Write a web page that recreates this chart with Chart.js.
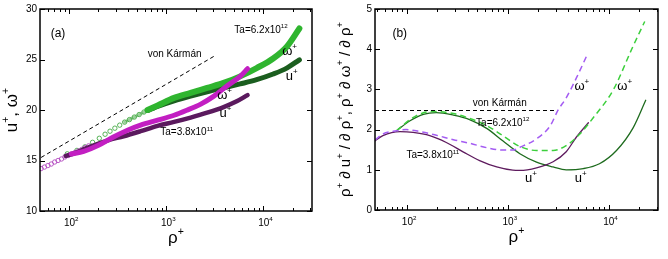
<!DOCTYPE html>
<html>
<head>
<meta charset="utf-8">
<script src="https://cdn.jsdelivr.net/npm/chart.js@4.4.1/dist/chart.umd.min.js"></script>
<style>
  html, body { margin: 0; padding: 0; background: #fff; }
  #wrap { position: relative; width: 668px; height: 259px; }
  #ca { position: absolute; left: 0; top: 0; }
  #cb { position: absolute; left: 330px; top: 0; }
</style>
</head>
<body>
<div id="wrap">
  <canvas id="ca" width="330" height="259" style="width:330px;height:259px"></canvas>
  <canvas id="cb" width="338" height="259" style="width:338px;height:259px"></canvas>
</div>
<script>
// ============================================
// Panel (a) data: u+ and omega+ vs rho+
// ============================================
const vkRhoA = [51.3, 3200]
const vkValA = [15.3, 25.4]

// Ta=3.8e11, near-wall circles
const lowCircRho = [51.3, 55.6, 60.3, 65.3, 70.8, 76.7, 83.2, 90.2, 97.7, 105.9, 114.8, 124.5, 134.9, 146.2, 158.5]
const lowCircVal = [14.2, 14.35, 14.5, 14.65, 14.85, 15.0, 15.15, 15.35, 15.5, 15.65, 15.8, 15.95, 16.1, 16.3, 16.45]
// Ta=3.8e11, u+
const lowURho = [92, 112, 158, 251, 363, 543, 813, 1202, 1778, 2630, 3890, 5370, 6860]
const lowUVal = [15.45, 15.7, 16.3, 17.0, 17.4, 17.9, 18.43, 18.82, 19.25, 19.73, 20.29, 20.88, 21.47]
// Ta=3.8e11, omega+
const lowWRho = [105, 141, 200, 282, 398, 543, 813, 1202, 1622, 2239, 3090, 4169, 5754, 6860]
const lowWVal = [15.65, 15.9, 16.5, 17.3, 18.0, 18.5, 18.99, 19.48, 19.97, 20.56, 21.37, 22.35, 23.33, 24.09]

// Ta=6.2e12, near-wall circles
const highCircRho = [95.5, 120, 145, 174, 204, 234, 263, 295, 331, 372, 417, 468, 525, 589, 661, 741]
const highCircVal = [15.66, 16.0, 16.35, 16.8, 17.2, 17.6, 17.9, 18.2, 18.5, 18.8, 19.05, 19.3, 19.55, 19.8, 20.0, 20.2]
// where the circles crowd into a band
const highBandRho = [372, 417, 468, 525, 589, 661, 741]
const highBandVal = [18.8, 19.05, 19.3, 19.55, 19.8, 20.0, 20.2]
// Ta=6.2e12, omega+ and u+
const highRho = [640, 813, 1202, 1778, 2630, 3890, 5754, 8511, 12590, 17380, 23440]
const highWVal = [20.0, 20.45, 21.2, 21.7, 22.19, 22.68, 23.33, 24.15, 25.1, 26.27, 28.07]
const highUVal = [19.95, 20.35, 20.9, 21.37, 21.8, 22.19, 22.58, 23.0, 23.56, 24.15, 24.97]

// ============================================
// Panel (b) data: log-derivatives
// ============================================
const vkRhoB = [48, 3040]
const vkValB = [2.475, 2.475]

const dLowURho = [48, 57.5, 85.1, 114.8, 168, 245, 363, 525, 776, 1122, 1318, 1928, 2818, 3802, 4786, 6310]
const dLowUVal = [1.72, 1.85, 1.95, 1.93, 1.85, 1.68, 1.44, 1.23, 1.07, 0.99, 0.985, 1.05, 1.2, 1.45, 1.81, 2.17]

const dLowWRho = [48, 57.5, 78.5, 97.7, 135, 195, 288, 417, 617, 891, 1122, 1318, 1928, 2630, 3162, 3802, 4786, 6166]
const dLowWVal = [1.74, 1.89, 1.97, 2.0, 1.95, 1.86, 1.75, 1.66, 1.55, 1.49, 1.49, 1.56, 1.77, 2.09, 2.49, 2.79, 3.28, 3.87]

const dHighURho = [78.5, 107, 145, 195, 288, 417, 617, 891, 1318, 1928, 2818, 3800, 5620, 8130, 12000, 17600, 23400]
const dHighUVal = [1.97, 2.22, 2.38, 2.42, 2.36, 2.25, 2.03, 1.72, 1.4, 1.19, 1.07, 1.0, 1.03, 1.15, 1.48, 2.05, 2.73]

const dHighWRho = [78.5, 107, 145, 182, 288, 417, 617, 891, 1318, 1928, 2818, 3890, 5190, 7080, 11220, 16980, 22900]
const dHighWVal = [1.97, 2.25, 2.42, 2.45, 2.4, 2.28, 2.1, 1.85, 1.58, 1.48, 1.48, 1.62, 1.89, 2.3, 3.0, 4.0, 4.69]

const xLabelExps = [2, 3, 4]

// ============================================
// Helpers
// ============================================
const FONT = '"Liberation Sans", Arial, sans-serif'

function pts(xs, ys) {
  return xs.map((x, i) => ({ x: x, y: ys[i] }))
}

// "u^{+}" -> [{t:'u'},{t:'+',sup:true}]
function parse(str) {
  const segs = []
  const re = /\^\{([^}]*)\}/g
  let last = 0, m
  while ((m = re.exec(str))) {
    if (m.index > last) segs.push({ t: str.slice(last, m.index) })
    segs.push({ t: m[1], sup: true })
    last = re.lastIndex
  }
  if (last < str.length) segs.push({ t: str.slice(last) })
  return segs
}

function drawRich(ctx, str, x, y, size, rot) {
  const segs = parse(str)
  ctx.save()
  ctx.translate(x, y)
  if (rot) ctx.rotate(rot)
  let w = 0
  segs.forEach((s) => {
    ctx.font = (s.sup ? size * 0.62 : size) + "px " + FONT
    w += ctx.measureText(s.t).width
  })
  let cx = -w / 2
  ctx.textBaseline = "middle"
  ctx.textAlign = "left"
  ctx.fillStyle = "#000"
  segs.forEach((s) => {
    ctx.font = (s.sup ? size * 0.62 : size) + "px " + FONT
    ctx.fillText(s.t, cx, s.sup ? -size * 0.36 : 0)
    cx += ctx.measureText(s.t).width
  })
  ctx.restore()
}

// box, inward ticks, log labels, titles, notes
const framePlugin = {
  id: "frame",
  afterDraw(chart, args, opts) {
    const ctx = chart.ctx
    const a = chart.chartArea
    const xs = chart.scales.x
    const ys = chart.scales.y
    ctx.save()
    ctx.strokeStyle = "#000"
    ctx.lineWidth = 1
    ctx.beginPath()
    for (let e = 1; e <= 4; e++) {
      for (let m = 1; m <= 9; m++) {
        const v = m * Math.pow(10, e)
        if (v <= xs.min || v >= xs.max) continue
        const px = Math.round(xs.getPixelForValue(v)) + 0.5
        const len = m === 1 ? 5 : 3
        ctx.moveTo(px, a.bottom); ctx.lineTo(px, a.bottom - len)
        ctx.moveTo(px, a.top); ctx.lineTo(px, a.top + len)
      }
    }
    ys.ticks.forEach((t) => {
      const py = Math.round(ys.getPixelForValue(t.value)) + 0.5
      ctx.moveTo(a.left, py); ctx.lineTo(a.left + 5, py)
      ctx.moveTo(a.right, py); ctx.lineTo(a.right - 5, py)
    })
    ctx.stroke()
    ctx.lineWidth = 1.5
    ctx.strokeRect(a.left, a.top, a.right - a.left, a.bottom - a.top)

    xLabelExps.forEach((e) => {
      drawRich(ctx, "10^{" + e + "}", xs.getPixelForValue(Math.pow(10, e)) + 2, a.bottom + 12, 10)
    })
    drawRich(ctx, opts.xTitle, (a.left + a.right) / 2, a.bottom + 27, 17)
    drawRich(ctx, opts.yTitle, opts.yTitleX, (a.top + a.bottom) / 2, opts.yTitleSize, -Math.PI / 2)
    opts.notes.forEach((n) => {
      drawRich(ctx, n.text, xs.getPixelForValue(n.x), ys.getPixelForValue(n.y), n.size)
    })
    ctx.restore()
  },
}

function lineSet(data, color, width, order, dash) {
  return {
    data: data,
    borderColor: color,
    borderWidth: width,
    borderDash: dash || [],
    borderCapStyle: dash ? "butt" : "round",
    pointRadius: 0,
    fill: false,
    cubicInterpolationMode: "monotone",
    order: order,
  }
}

function circleSet(data, color, order) {
  return {
    data: data,
    showLine: false,
    pointStyle: "circle",
    pointRadius: 2.2,
    pointBorderWidth: 0.9,
    pointBorderColor: color,
    pointBackgroundColor: "rgba(255,255,255,0)",
    order: order,
  }
}

function baseOptions(xmin, xmax, ymin, ymax, step, yWidth, xHeight, padRight, frame) {
  return {
    responsive: false,
    animation: false,
    devicePixelRatio: 1,
    layout: { padding: { top: 7, right: padRight, left: 0, bottom: 0 } },
    plugins: { legend: { display: false }, tooltip: { enabled: false }, frame: frame },
    scales: {
      x: {
        type: "logarithmic",
        min: xmin,
        max: xmax,
        grid: { display: false, drawTicks: false },
        border: { display: false },
        ticks: { display: false },
        afterFit: (s) => { s.height = xHeight },
      },
      y: {
        type: "linear",
        min: ymin,
        max: ymax,
        grid: { display: false, drawTicks: false },
        border: { display: false },
        ticks: { stepSize: step, padding: 3, color: "#000", font: { family: FONT, size: 10 } },
        afterFit: (s) => { s.width = yWidth },
      },
    },
  }
}

// ============================================
// Panel (a)
// ============================================
new Chart(document.getElementById("ca"), {
  type: "line",
  data: {
    datasets: [
      lineSet(pts(vkRhoA, vkValA), "#000", 1, 0, [4, 3]),
      lineSet(pts(lowWRho, lowWVal), "#c21fc2", 5, 1),
      lineSet(pts(lowURho, lowUVal), "#5b1a5e", 4.5, 2),
      circleSet(pts(lowCircRho, lowCircVal), "#b248c0", 3),
      lineSet(pts(highRho, highWVal), "#2fb52f", 6, 4),
      lineSet(pts(highRho, highUVal), "#1b5e1f", 5, 5),
      lineSet(pts(highBandRho, highBandVal), "rgba(69,170,69,0.55)", 3, 6),
      circleSet(pts(highCircRho, highCircVal), "#45aa45", 7),
    ],
  },
  options: baseOptions(50, 31623, 10, 30, 5, 40, 48, 18, {
    xTitle: "ρ^{+}",
    yTitle: "u^{+}, ω^{+}",
    yTitleX: 12,
    yTitleSize: 17,
    notes: [
      { text: "(a)", x: 76.6, y: 27.55, size: 12 },
      { text: "von Kármán", x: 1216, y: 25.5, size: 10 },
      { text: "Ta=6.2x10^{12}", x: 9440, y: 27.94, size: 10 },
      { text: "ω^{+}", x: 18600, y: 25.8, size: 13 },
      { text: "u^{+}", x: 19500, y: 23.3, size: 13 },
      { text: "ω^{+}", x: 3980, y: 21.4, size: 13 },
      { text: "u^{+}", x: 4070, y: 19.7, size: 13 },
      { text: "Ta=3.8x10^{11}", x: 1620, y: 17.75, size: 10 },
    ],
  }),
  plugins: [framePlugin],
})

// ============================================
// Panel (b)
// ============================================
new Chart(document.getElementById("cb"), {
  type: "line",
  data: {
    datasets: [
      lineSet(pts(vkRhoB, vkValB), "#000", 1, 0, [4, 3]),
      lineSet(pts(dLowWRho, dLowWVal), "#a45cf2", 1.5, 1, [6, 4]),
      lineSet(pts(dHighWRho, dHighWVal), "#3ccf3c", 1.5, 2, [6, 4]),
      lineSet(pts(dLowURho, dLowUVal), "#5e1b5e", 1.3, 3),
      lineSet(pts(dHighURho, dHighUVal), "#1e6b1e", 1.3, 4),
    ],
  },
  options: baseOptions(48, 31000, 0, 5, 1, 45, 49, 10, {
    xTitle: "ρ^{+}",
    yTitle: "ρ^{+} ∂ u^{+} / ∂ ρ^{+}, ρ^{+} ∂ ω^{+} / ∂ ρ^{+}",
    yTitleX: 16,
    yTitleSize: 15,
    notes: [
      { text: "(b)", x: 84.5, y: 4.38, size: 12 },
      { text: "von Kármán", x: 832, y: 2.66, size: 10 },
      { text: "Ta=6.2x10^{12}", x: 891, y: 2.17, size: 10 },
      { text: "Ta=3.8x10^{11}", x: 180, y: 1.35, size: 10 },
      { text: "ω^{+}", x: 5430, y: 3.08, size: 13 },
      { text: "ω^{+}", x: 14500, y: 3.08, size: 13 },
      { text: "u^{+}", x: 1700, y: 0.79, size: 13 },
      { text: "u^{+}", x: 5310, y: 0.79, size: 13 },
    ],
  }),
  plugins: [framePlugin],
})
</script>
</body>
</html>
